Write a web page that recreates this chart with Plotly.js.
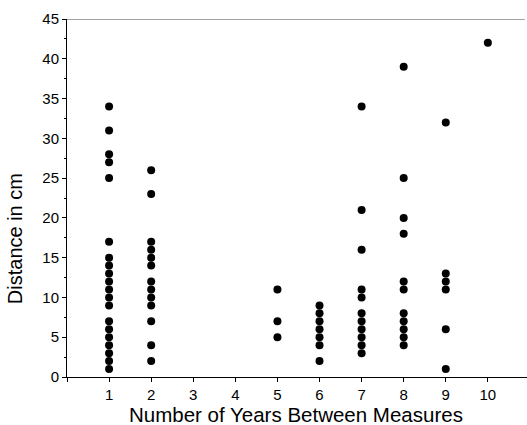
<!DOCTYPE html>
<html>
<head>
<meta charset="utf-8">
<script src="https://cdn.plot.ly/plotly-3.0.1.min.js"></script>
<style>html,body{margin:0;padding:0;background:#fff;}#chart{width:527px;height:425px;}</style>
</head>
<body>
<div id="chart"></div>
<script>
// Number of years between measures (x categories)
const years = [1, 2, 5, 6, 7, 8, 9, 10];
// Distance in cm for each group of years
const dist1  = [34, 31, 28, 27, 25, 17, 15, 14, 13, 12, 11, 10, 9, 7, 6, 5, 4, 3, 2, 1];
const dist2  = [26, 23, 17, 16, 15, 14, 12, 11, 10, 9, 7, 4, 2];
const dist5  = [11, 7, 5];
const dist6  = [9, 8, 7, 6, 5, 4, 2];
const dist7  = [34, 21, 16, 11, 10, 8, 7, 6, 5, 4, 3];
const dist8  = [39, 25, 20, 18, 12, 11, 8, 7, 6, 5, 4];
const dist9  = [32, 13, 12, 11, 6, 1];
const dist10 = [42];
const xTickVals = [0, 1, 2, 3, 4, 5, 6, 7, 8, 9, 10];
const xTickText = ['', '1', '2', '3', '4', '5', '6', '7', '8', '9', '10'];
const yTickVals = [0, 5, 10, 15, 20, 25, 30, 35, 40, 45];

const groups = [dist1, dist2, dist5, dist6, dist7, dist8, dist9, dist10];
const xs = [], ys = [];
groups.forEach((g, i) => g.forEach(v => { xs.push(years[i]); ys.push(v); }));

const font = 'Liberation Sans, Arial, Helvetica, sans-serif';

const trace = {
  x: xs, y: ys, type: 'scatter', mode: 'markers',
  marker: {color: '#000', size: 8, line: {width: 0}},
  hoverinfo: 'x+y', showlegend: false
};

const layout = {
  width: 527, height: 425,
  margin: {l: 67, r: 0, t: 19, b: 48, pad: 0},
  paper_bgcolor: '#fff', plot_bgcolor: '#fff',
  font: {family: font, color: '#000', size: 15},
  xaxis: {
    range: [0, 10.93], tickmode: 'array', tickvals: xTickVals, ticktext: xTickText,
    ticks: 'outside', ticklen: 4, tickwidth: 1, tickcolor: '#000',
    showline: true, linecolor: '#000', linewidth: 1, showgrid: false, zeroline: false,
    tickfont: {family: font, size: 15, color: '#000'}
  },
  yaxis: {
    range: [0, 45], tickmode: 'array', tickvals: yTickVals,
    ticks: 'outside', ticklen: 4, tickwidth: 1, tickcolor: '#000',
    minor: {dtick: 2.5, ticks: 'outside', ticklen: 2, tickcolor: '#000', showgrid: false},
    showline: true, linecolor: '#000', linewidth: 1, showgrid: false, zeroline: false,
    tickfont: {family: font, size: 15, color: '#000'}
  },
  shapes: [{
    type: 'line', xref: 'paper', yref: 'y', x0: 0, x1: 0.995, y0: 45, y1: 45,
    line: {color: '#808080', width: 1.5}
  }],
  annotations: [
    {text: 'Number of Years Between Measures', xref: 'paper', yref: 'paper',
     x: 0.497, y: -0.106, xanchor: 'center', yanchor: 'middle', showarrow: false,
     font: {family: font, size: 20.5, color: '#000'}},
    {text: 'Distance in cm', xref: 'paper', yref: 'paper', textangle: -90,
     x: -0.113, y: 0.385, xanchor: 'center', yanchor: 'middle', showarrow: false,
     font: {family: font, size: 20, color: '#000'}}
  ]
};

Plotly.newPlot('chart', [trace], layout, {displayModeBar: false, staticPlot: true});
</script>
</body>
</html>
